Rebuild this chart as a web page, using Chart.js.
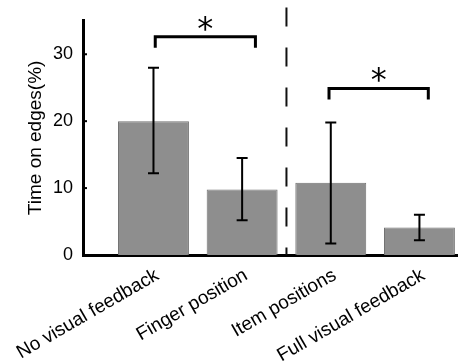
<!DOCTYPE html>
<html>
<head>
<meta charset="utf-8">
<script src="https://cdn.jsdelivr.net/npm/chart.js@4"></script>
<style>
  html, body { margin: 0; padding: 0; background: #fff; }
</style>
</head>
<body>
<canvas id="chart" width="458" height="364"></canvas>
<script>
// Time spent on edges per feedback condition, mean with error range

const categories = ["No visual feedback", "Finger position", "Item positions", "Full visual feedback"];
const meanTime = [20.0, 9.8, 10.8, 4.1];
const errLow = [12.2, 5.2, 1.7, 2.2];
const errHigh = [28.0, 14.5, 19.8, 6.0];
const yTicks = [0, 10, 20, 30];

// significance brackets (x in category units, y in %)
const sigFrom = [1.02, 2.98];
const sigTo = [2.15, 4.10];
const sigLevel = [32.6, 24.9];
const sigMark = ["*", "*"];

// dashed separator between the two groups
const dividerAt = 2.5;
const dividerTop = 37;

const FONT = "'Liberation Sans', Arial, sans-serif";

const overlay = {
    id: "overlay",
    beforeDatasetsDraw(chart) {
        const { ctx, scales: { x, y } } = chart;
        ctx.save();
        ctx.strokeStyle = "#111";
        ctx.lineWidth = 2;
        ctx.setLineDash([19, 21]);
        ctx.beginPath();
        ctx.moveTo(x.getPixelForValue(dividerAt), y.getPixelForValue(dividerTop));
        ctx.lineTo(x.getPixelForValue(dividerAt), y.getPixelForValue(0));
        ctx.stroke();
        ctx.restore();
    },
    afterDatasetsDraw(chart) {
        const { ctx, chartArea, scales: { x, y } } = chart;
        ctx.save();
        ctx.strokeStyle = "#000";
        ctx.fillStyle = "#000";

        // error bars
        ctx.lineWidth = 2;
        meanTime.forEach((m, i) => {
            const px = x.getPixelForValue(i + 1);
            const lo = y.getPixelForValue(errLow[i]);
            const hi = y.getPixelForValue(errHigh[i]);
            ctx.beginPath();
            ctx.moveTo(px, lo);
            ctx.lineTo(px, hi);
            ctx.moveTo(px - 5.5, lo);
            ctx.lineTo(px + 5.5, lo);
            ctx.moveTo(px - 5.5, hi);
            ctx.lineTo(px + 5.5, hi);
            ctx.stroke();
        });

        // inward tick marks on y axis
        yTicks.forEach(t => {
            if (t === 0) return;
            const py = y.getPixelForValue(t);
            ctx.beginPath();
            ctx.moveTo(chartArea.left, py);
            ctx.lineTo(chartArea.left + 4, py);
            ctx.stroke();
        });

        // significance brackets
        ctx.lineWidth = 3;
        ctx.lineJoin = "miter";
        sigFrom.forEach((f, i) => {
            const x1 = x.getPixelForValue(f);
            const x2 = x.getPixelForValue(sigTo[i]);
            const py = y.getPixelForValue(sigLevel[i]);
            ctx.beginPath();
            ctx.moveTo(x1, py + 11);
            ctx.lineTo(x1, py);
            ctx.lineTo(x2, py);
            ctx.lineTo(x2, py + 11);
            ctx.stroke();
            ctx.font = "32px 'DejaVu Sans'";
            ctx.textAlign = "center";
            ctx.textBaseline = "alphabetic";
            ctx.fillText(sigMark[i], (x1 + x2) / 2, py + 2);
        });
        ctx.restore();
    }
};

new Chart(document.getElementById("chart"), {
    type: "bar",
    data: {
        datasets: [{
            data: meanTime.map((v, i) => ({ x: i + 1, y: v })),
            backgroundColor: "#8e8e8e",
            borderColor: "#727272",
            borderWidth: 1,
            categoryPercentage: 0.8,
            barPercentage: 1.0
        }]
    },
    options: {
        responsive: false,
        animation: false,
        layout: { padding: { top: 19, right: 0, left: 0, bottom: 0 } },
        plugins: {
            legend: { display: false },
            tooltip: { enabled: false }
        },
        scales: {
            x: {
                type: "linear",
                offset: false,
                min: 0.205,
                max: 4.435,
                afterBuildTicks: s => { s.ticks = categories.map((c, i) => ({ value: i + 1 })); },
                afterFit: s => {
                    s.height = 109;
                    s.paddingLeft = 0;
                    s.paddingRight = 0;
                },
                grid: { display: false, drawTicks: false },
                border: { display: true, color: "#000", width: 3 },
                ticks: {
                    autoSkip: false,
                    minRotation: 30,
                    maxRotation: 30,
                    padding: 9,
                    labelOffset: 4,
                    color: "#000",
                    font: { family: FONT, size: 19 },
                    callback: v => categories[v - 1]
                }
            },
            y: {
                min: 0,
                max: 35,
                afterBuildTicks: s => { s.ticks = yTicks.map(v => ({ value: v })); },
                afterFit: s => { s.width = 83; },
                grid: { display: false, drawTicks: false },
                border: { display: true, color: "#000", width: 3 },
                ticks: {
                    padding: 10,
                    color: "#000",
                    font: { family: FONT, size: 18 }
                },
                title: {
                    display: true,
                    text: "Time on edges(%)",
                    color: "#000",
                    font: { family: FONT, size: 19 },
                    padding: { top: 24, bottom: 0 }
                }
            }
        }
    },
    plugins: [overlay]
});
</script>
</body>
</html>
